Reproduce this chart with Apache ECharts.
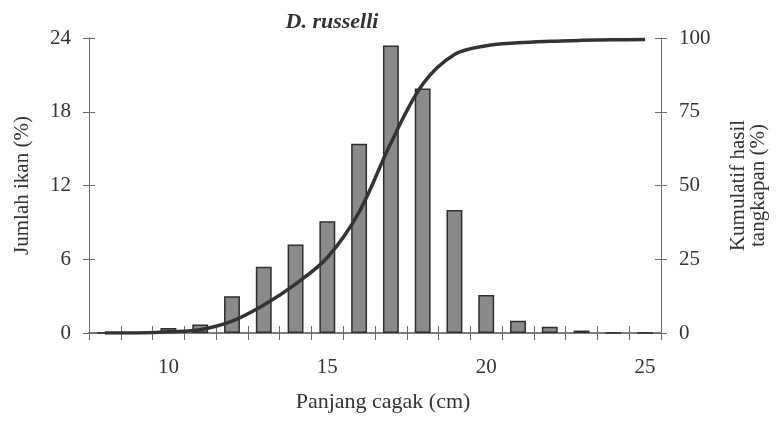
<!DOCTYPE html>
<html>
<head>
<meta charset="utf-8">
<script src="https://cdn.jsdelivr.net/npm/echarts@6/dist/echarts.min.js"></script>
<style>
html,body{margin:0;padding:0;background:#fff;}
#chart{width:783px;height:425px;}
</style>
</head>
<body>
<div id="chart"></div>
<script>
// Length classes (cm)
const categories = ['8','9','10','11','12','13','14','15','16','17','18','19','20','21','22','23','24','25'];
// Jumlah ikan (%) per length class
const jumlahIkan = [0, 0, 0.4, 0.7, 3.0, 5.4, 7.2, 9.1, 15.4, 23.4, 19.9, 10.0, 3.1, 1.0, 0.5, 0.2, 0, 0];
// Kumulatif hasil tangkapan (%)
const kumulatif = [0, 0, 0.4, 1.1, 4.0, 9.5, 16.6, 25.6, 41.0, 64.4, 84.3, 94.4, 97.4, 98.4, 98.9, 99.2, 99.4, 99.5];
const leftTicks = [0, 6, 12, 18, 24];
const rightTicks = [0, 25, 50, 75, 100];
const xLabelsShown = ['10', '15', '20', '25'];

const FONT = '"Liberation Serif", "DejaVu Serif", serif';
const TXT = '#333';
const AX = '#6a6a6a';
const FS = 21;

const chart = echarts.init(document.getElementById('chart'), null, {renderer: 'canvas'});

const yBase = {
  type: 'value',
  axisLine: {show: true, lineStyle: {color: AX, width: 1}},
  splitLine: {show: false},
};

chart.setOption({
  backgroundColor: '#fff',
  animation: false,
  title: {
    text: 'D. russelli',
    left: 327, top: 6,
    textAlign: 'center',
    textStyle: {fontFamily: FONT, fontStyle: 'italic', fontWeight: 'bold', fontSize: 22, color: TXT}
  },
  grid: {left: 89, right: 122, top: 38, bottom: 92},
  xAxis: [
    {
      type: 'category',
      data: categories,
      boundaryGap: true,
      name: 'Panjang cagak (cm)',
      nameLocation: 'middle',
      nameGap: 58,
      nameTextStyle: {fontFamily: FONT, fontSize: 22, color: TXT, padding: [0, 0, 0, 16]},
      axisLine: {show: true, lineStyle: {color: '#555', width: 1.5}},
      axisTick: {show: true, length: 7, lineStyle: {color: AX}},
      axisLabel: {
        margin: 24,
        fontFamily: FONT, fontSize: FS, color: TXT,
        interval: 0,
        formatter: v => xLabelsShown.includes(v) ? v : ''
      },
      splitLine: {show: false}
    },
    {
      type: 'category',
      data: categories,
      position: 'bottom',
      boundaryGap: true,
      axisLine: {show: false},
      axisTick: {show: true, inside: true, length: 7, lineStyle: {color: AX}},
      axisLabel: {show: false},
      splitLine: {show: false}
    }
  ],
  yAxis: [
    Object.assign({}, yBase, {
      position: 'left',
      min: 0, max: 24, interval: 6,
      name: 'Jumlah ikan (%)',
      nameLocation: 'middle',
      nameRotate: 90,
      nameGap: 56,
      nameTextStyle: {fontFamily: FONT, fontSize: 21, color: TXT},
      axisTick: {show: true, length: 6, lineStyle: {color: AX}},
      axisLabel: {margin: 18, fontFamily: FONT, fontSize: FS, color: TXT,
        formatter: v => leftTicks.includes(v) ? String(v) : ''}
    }),
    Object.assign({}, yBase, {
      position: 'right',
      min: 0, max: 100, interval: 25,
      name: 'Kumulatif hasil\ntangkapan (%)',
      nameLocation: 'middle',
      nameRotate: 90,
      nameGap: 67,
      nameTextStyle: {fontFamily: FONT, fontSize: 21, color: TXT, lineHeight: 20, align: 'center'},
      axisTick: {show: true, length: 6, lineStyle: {color: AX}},
      axisLabel: {margin: 18, fontFamily: FONT, fontSize: FS, color: TXT,
        formatter: v => rightTicks.includes(v) ? String(v) : ''}
    }),
    Object.assign({}, yBase, {
      position: 'left', min: 0, max: 24, interval: 6,
      axisLine: {show: false},
      axisTick: {show: true, inside: true, length: 6, lineStyle: {color: AX}},
      axisLabel: {show: false}
    }),
    Object.assign({}, yBase, {
      position: 'right', min: 0, max: 100, interval: 25,
      axisLine: {show: false},
      axisTick: {show: true, inside: true, length: 6, lineStyle: {color: AX}},
      axisLabel: {show: false}
    })
  ],
  series: [
    {
      type: 'bar',
      name: 'Jumlah ikan',
      data: jumlahIkan,
      xAxisIndex: 0,
      yAxisIndex: 0,
      barWidth: '50%',
      itemStyle: {color: '#8a8a8a', borderColor: '#2e2e2e', borderWidth: 1.5},
      z: 2
    },
    {
      type: 'line',
      name: 'Kumulatif',
      data: kumulatif,
      xAxisIndex: 0,
      yAxisIndex: 1,
      smooth: 0.35,
      showSymbol: false,
      symbol: 'none',
      lineStyle: {color: '#333', width: 3.5},
      z: 3
    }
  ]
});
</script>
</body>
</html>
